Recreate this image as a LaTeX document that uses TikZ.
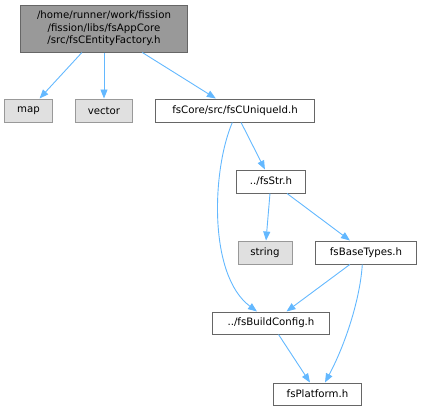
\documentclass[tikz,border=0pt]{standalone}
\usepackage{fontspec}
\setmainfont{DejaVu Sans}
\usetikzlibrary{arrows.meta}
\definecolor{edgec}{HTML}{63B8FF}
\definecolor{rootfill}{HTML}{999999}
\definecolor{darkborder}{HTML}{666666}
\definecolor{greyfill}{HTML}{E0E0E0}
\definecolor{greyborder}{HTML}{999999}
\begin{document}
\begin{tikzpicture}[x=1bp,y=-1bp,
  font=\fontsize{10.2bp}{12.5bp}\selectfont,
  basebox/.style={rectangle, inner sep=0pt, line width=1bp},
  rootbox/.style={basebox, draw=darkborder, fill=rootfill, align=center},
  greybox/.style={basebox, draw=greyborder, fill=greyfill},
  whitebox/.style={basebox, draw=darkborder, fill=white},
  edge/.style={draw=edgec, line width=0.9bp, -{Triangle[length=9bp,width=7bp]}}]
\useasboundingbox (0,0) rectangle (421,411);
\node[rootbox, minimum width=166bp, minimum height=47bp] (root) at (104,28.5)
  {/home/runner/work/fission\\/fission/libs/fsAppCore\\/src/fsCEntityFactory.h};
\node[greybox, minimum width=47bp, minimum height=23bp] (map) at (28.5,110.5) {map};
\node[greybox, minimum width=57bp, minimum height=23bp] (vec) at (104,110.5) {vector};
\node[whitebox, minimum width=158bp, minimum height=23bp] (cu) at (235,110.5) {fsCore/src/fsCUniqueId.h};
\node[whitebox, minimum width=68bp, minimum height=23bp] (str) at (271,181.5) {../fsStr.h};
\node[greybox, minimum width=54bp, minimum height=23bp] (string) at (265,252.5) {string};
\node[whitebox, minimum width=100bp, minimum height=23bp] (bt) at (366,252.5) {fsBaseTypes.h};
\node[whitebox, minimum width=116bp, minimum height=22bp] (bc) at (271,323) {../fsBuildConfig.h};
\node[whitebox, minimum width=87bp, minimum height=22bp] (pl) at (317.5,394) {fsPlatform.h};
\draw[edge] (root) -- (map);
\draw[edge] (root) -- (vec);
\draw[edge] (root) -- (cu);
\draw[edge] (cu) -- (str);
\draw[edge] ([xshift=-2.7bp]cu.south) .. controls (212,170) and (208,275) .. ([xshift=-14bp]bc.north);
\draw[edge] (str) -- (string);
\draw[edge] (str) -- (bt);
\draw[edge] (bt) -- (bc);
\draw[edge] ([xshift=-3.7bp]bt.south) .. controls (360,300) and (345,345) .. ([xshift=7.5bp]pl.north);
\draw[edge] (bc) -- (pl);
\end{tikzpicture}
\end{document}
